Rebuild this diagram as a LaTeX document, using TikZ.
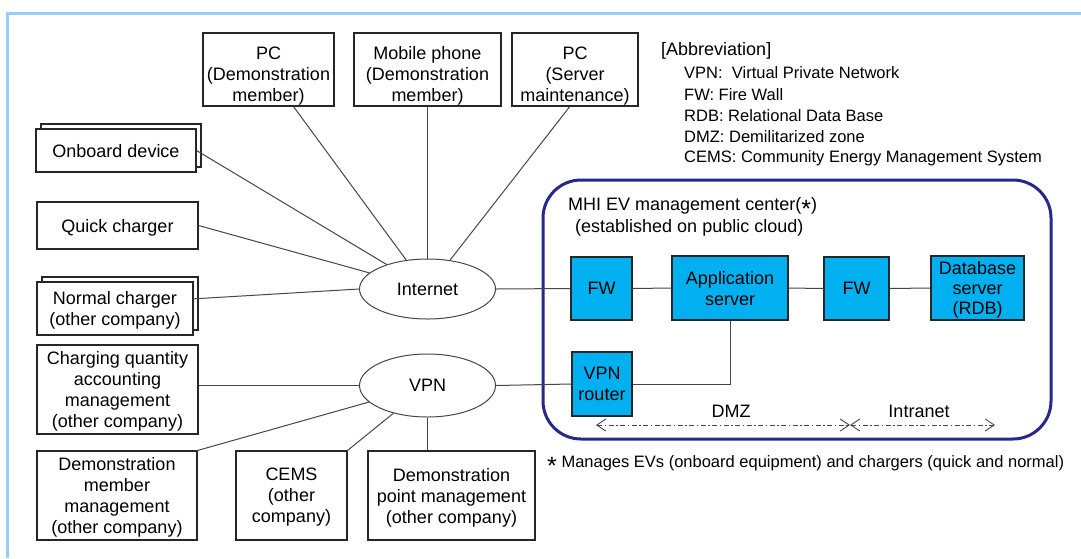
\documentclass[tikz,border=0pt]{standalone}
\usepackage{fontspec}
\setmainfont{Liberation Sans}
\usetikzlibrary{shapes.geometric,shadows,arrows.meta}
\definecolor{frameblue}{RGB}{153,204,255}
\definecolor{navy}{RGB}{40,40,140}
\definecolor{boxblue}{RGB}{0,176,240}
\definecolor{linegray}{RGB}{70,70,70}
\newcommand{\midast}{\smash{\raisebox{-7.5pt}{\fontsize{25}{25}\selectfont *}}}
\begin{document}
\begin{tikzpicture}[x=1pt,y=-1pt,
  lbl/.style={font=\fontsize{18}{21}\selectfont, align=center, inner sep=0pt},
  box/.style={lbl, draw=black!85, line width=1.1pt, fill=white, text depth=0pt},
  topbox/.style={box, text height=63pt},
  bluebox/.style={lbl, draw=black!85, line width=1.1pt, fill=boxblue, text depth=0pt},
  net/.style={lbl, ellipse, draw=linegray, line width=1pt, fill=white},
  conn/.style={draw=linegray, line width=1pt},
  stack/.style={copy shadow={shadow xshift=5pt, shadow yshift=5pt, draw=black!85, line width=1.1pt, fill=white}},
  abbr/.style={font=\fontsize{16.5}{20}\selectfont, anchor=west, inner sep=0pt},
  zone/.style={draw=linegray, line width=0.9pt, dash pattern=on 5pt off 2.5pt on 1.5pt off 2.5pt,
    {Straight Barb[length=9pt,width=12pt]}-{Straight Barb[length=9pt,width=12pt]}}
]
\useasboundingbox (0,0) rectangle (1081,558);
\fill[white] (0,0) rectangle (1081,558);
\draw[frameblue, line width=3pt] (7.5,558) -- (7.5,13) -- (1081,13);

% MHI center
\draw[navy, line width=3pt, rounded corners=38pt] (543,180) rectangle (1051,439);
\node[lbl, align=left, anchor=north west, font=\fontsize{18}{22}\selectfont] (mhi) at (568,197)
  {MHI EV management center(\midast)\\\hspace*{7pt}(established on public cloud)};

% top boxes
\node[topbox, minimum width=131pt, minimum height=73pt] (pc1) at (268.5,69.5) {PC\\(Demonstration\\member)};
\node[topbox, minimum width=147pt, minimum height=73pt] (mobile) at (427.5,69.5) {Mobile phone\\(Demonstration\\member)};
\node[topbox, minimum width=126pt, minimum height=73pt] (pcs) at (575,69.5) {PC\\(Server\\maintenance)};

% left boxes
\node[box, stack, minimum width=160pt, minimum height=43pt] (onboard) at (116,150.5) {Onboard device};
\node[box, minimum width=161pt, minimum height=47pt] (quick) at (117.5,225.5) {Quick charger};
\node[box, stack, minimum width=156pt, minimum height=53pt] (normal) at (115,308.5) {Normal charger\\(other company)};
\node[box, minimum width=161pt, minimum height=89pt] (charging) at (117.5,389.5) {Charging quantity\\accounting\\management\\(other company)};
\node[box, minimum width=160pt, minimum height=89pt] (demomem) at (117,495.5) {Demonstration\\member\\management\\(other company)};
\node[box, minimum width=111pt, minimum height=89pt] (cems) at (291.5,495.5) {CEMS\\(other\\company)};
\node[box, minimum width=167pt, minimum height=89pt] (demopt) at (451.5,495.5) {Demonstration\\point management\\(other company)};

% networks
\node[net, minimum width=136pt, minimum height=60pt] (internet) at (427.5,289) {Internet};
\node[net, minimum width=136pt, minimum height=63pt] (vpn) at (427.5,385.5) {VPN};

% blue boxes
\node[bluebox, minimum width=61pt, minimum height=63pt] (fw1) at (601.5,288.5) {FW};
\node[bluebox, minimum width=116pt, minimum height=64pt] (app) at (730,288) {Application\\server};
\node[bluebox, minimum width=65pt, minimum height=63pt] (fw2) at (856.5,288.5) {FW};
\node[bluebox, minimum width=93pt, minimum height=64pt, font=\fontsize{18}{20}\selectfont] (db) at (977.5,288) {Database\\server\\(RDB)};
\node[bluebox, minimum width=60pt, minimum height=64pt] (router) at (602,384) {VPN\\router};

% connectors to internet
\draw[conn] (onboard.east) -- (internet);
\draw[conn] (pc1.-56) -- (internet);
\draw[conn] (mobile.south) -- (internet.north);
\draw[conn] (pcs.-98) -- (internet);
\draw[conn] (quick.east) -- (internet);
\draw[conn] (normal.7) -- (internet.west);
% connectors to vpn
\draw[conn] (vpn.west) -- (vpn.west -| charging.east);
\draw[conn] (demomem.north east) -- (vpn);
\draw[conn] (cems.north east) -- (vpn);
\draw[conn] (vpn.south) -- (vpn.south |- demopt.north);
% center
\draw[conn] (internet.east) -- (fw1.west);
\draw[conn] (fw1.east) -- (app.west);
\draw[conn] (app.east) -- (fw2.west);
\draw[conn] (fw2.east) -- (db.west);
\draw[conn] (vpn.east) -- (router.west);
\draw[conn] (app.south) -- (app.south |- router.east) -- (router.east);

% zones
\coordinate (dmzL) at (596,425);
\coordinate (mid) at (850,425);
\coordinate (intR) at (995,425);
\draw[zone] (dmzL) -- (mid);
\draw[zone] (mid) -- (intR);
\node[lbl] (dmz) at (731,411) {DMZ};
\node[lbl] (intra) at (919,411) {Intranet};

% abbreviations
\node[lbl, anchor=west] (abbr0) at (661,51) {[Abbreviation]};
\node[abbr] (abbr1) at (684,73) {VPN:\ \ Virtual Private Network};
\node[abbr] (abbr2) at (684,95) {FW:\ Fire Wall};
\node[abbr] (abbr3) at (684,116) {RDB: Relational Data Base};
\node[abbr] (abbr4) at (684,137) {DMZ: Demilitarized zone};
\node[abbr] (abbr5) at (684,158) {CEMS: Community Energy Management System};

% footnote
\node[abbr] (foot) at (547,463) {\midast\ Manages EVs (onboard equipment) and chargers (quick and normal)};
\end{tikzpicture}
\end{document}
